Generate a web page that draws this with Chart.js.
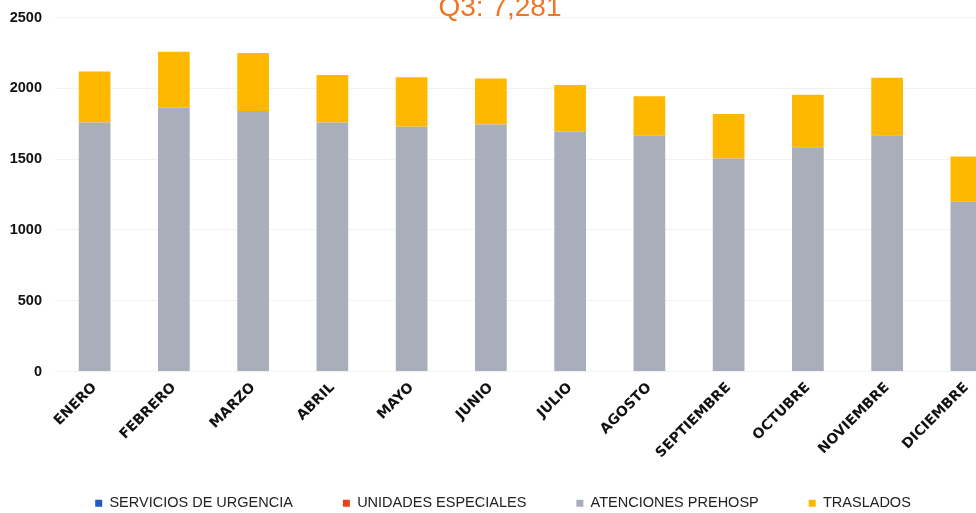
<!DOCTYPE html>
<html>
<head>
<meta charset="utf-8">
<script src="https://cdn.jsdelivr.net/npm/chart.js@4"></script>
<style>
  html, body { margin: 0; padding: 0; background: #fff; overflow: hidden; }
  #wrap { position: relative; width: 976px; height: 513px; overflow: hidden; }
  #chart-box { position: absolute; left: 0; top: -4px; width: 1010px; height: 545px; }
</style>
</head>
<body>
<div id="wrap">
  <div id="chart-box"><canvas id="chart"></canvas></div>
</div>
<script>
const titleText = "Q3: 7,281";
const months = ["ENERO", "FEBRERO", "MARZO", "ABRIL", "MAYO", "JUNIO", "JULIO",
                "AGOSTO", "SEPTIEMBRE", "OCTUBRE", "NOVIEMBRE", "DICIEMBRE"];
const serviciosUrgencia = [0, 0, 0, 0, 0, 0, 0, 0, 0, 0, 0, 0];
const unidadesEspeciales = [0, 0, 0, 0, 0, 0, 0, 0, 0, 0, 0, 0];
const atencionesPrehosp = [1760, 1865, 1840, 1760, 1730, 1745, 1695, 1665, 1505, 1585, 1670, 1200];
const traslados = [360, 395, 410, 335, 350, 325, 330, 280, 315, 370, 405, 320];
const yTicks = [0, 500, 1000, 1500, 2000, 2500];

document.addEventListener("DOMContentLoaded", function() {
    // title sits half off the top edge, like in the scan
    const titlePlugin = {
        id: "cutTitle",
        afterLayout(chart) {
            // pull the legend up so it overlaps the empty part under the rotated labels
            const lg = chart.legend;
            if (lg) {
                const h = lg.height;
                lg.top = 450;
                lg.bottom = 450 + h;
            }
        },
        afterDraw(chart) {
            const ctx = chart.ctx;
            ctx.save();
            ctx.font = "28px 'Liberation Sans', Arial, sans-serif";
            ctx.fillStyle = "#F07524";
            ctx.textAlign = "center";
            ctx.textBaseline = "alphabetic";
            ctx.fillText(titleText, 500, 20);
            ctx.restore();
        }
    };

    const ctx = document.getElementById("chart").getContext("2d");
    new Chart(ctx, {
        type: "bar",
        data: {
            labels: months,
            datasets: [
                { label: "SERVICIOS DE URGENCIA", data: serviciosUrgencia, backgroundColor: "#1F5CC0" },
                { label: "UNIDADES ESPECIALES", data: unidadesEspeciales, backgroundColor: "#E8431C" },
                { label: "ATENCIONES PREHOSP", data: atencionesPrehosp, backgroundColor: "#A8AEBA" },
                { label: "TRASLADOS", data: traslados, backgroundColor: "#FFB800" }
            ]
        },
        options: {
            responsive: true,
            maintainAspectRatio: false,
            animation: false,
            layout: { padding: { top: 4, right: 4, left: 0, bottom: 0 } },
            datasets: { bar: { categoryPercentage: 1, barPercentage: 0.4 } },
            plugins: {
                legend: {
                    position: "bottom",
                    labels: {
                        boxWidth: 7,
                        boxHeight: 7,
                        padding: 50,
                        color: "#222",
                        font: { family: "'Liberation Sans', Arial, sans-serif", size: 14.5 }
                    }
                },
                tooltip: { enabled: false }
            },
            scales: {
                x: {
                    stacked: true,
                    grid: { display: false, drawTicks: false },
                    border: { display: false },
                    ticks: {
                        minRotation: 45,
                        maxRotation: 45,
                        padding: 8,
                        color: "#111",
                        font: { family: "'DejaVu Sans', sans-serif", size: 14, weight: "bold" }
                    },
                    afterFit(scale) { scale.height = 95; }
                },
                y: {
                    stacked: true,
                    min: 0,
                    max: 2500,
                    afterBuildTicks(scale) { scale.ticks = yTicks.map(v => ({ value: v })); },
                    grid: { color: "rgba(0,0,0,0.05)", drawTicks: false },
                    border: { display: false },
                    ticks: {
                        padding: 13,
                        color: "#111",
                        font: { family: "'Liberation Sans', Arial, sans-serif", size: 14.5, weight: "bold" },
                        callback: v => String(v)
                    },
                    afterFit(scale) { scale.width = 55; }
                }
            }
        },
        plugins: [titlePlugin]
    });
});
</script>
</body>
</html>
